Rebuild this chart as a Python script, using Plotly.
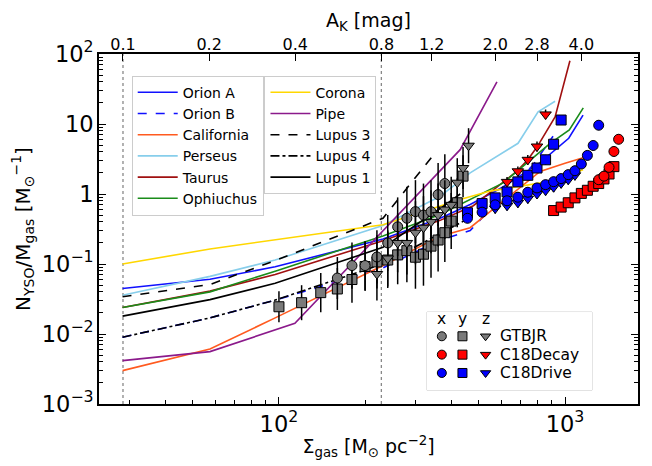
import plotly.graph_objects as go
import numpy as np

# ---------------- data ----------------
SIG_PER_AK = 285.0
ak_ticks = [0.1, 0.2, 0.4, 0.8, 1.2, 2.0, 2.8, 4.0]
ak_ticktext = ["0.1", "0.2", "0.4", "0.8", "1.2", "2.0", "2.8", "4.0"]
ak_guides = [0.1, 0.8]

# cloud curves: surface density and N_YSO/M_gas
orionA_s = [28.4, 57.4, 97, 231, 366, 466, 607, 818, 1030, 1156]
orionA_v = [0.0447, 0.0605, 0.0912, 0.227, 0.45, 0.71, 1.26, 2.8, 6.25, 13.4]
orionB_s = [28.4, 57.4, 97, 231, 366, 466, 607, 773, 908]
orionB_v = [0.0090, 0.017, 0.0305, 0.088, 0.22, 0.30, 0.95, 2.6, 6.7]
california_s = [28.4, 57.4, 97, 231, 366, 466, 607, 818, 1000, 1156]
california_v = [0.0030, 0.0061, 0.0170, 0.095, 0.25, 0.33, 0.79, 2.1, 2.75, 3.3]
perseus_s = [28.4, 57.4, 97, 231, 366, 466, 685, 805, 923]
perseus_v = [0.0357, 0.0665, 0.114, 0.355, 0.93, 2.0, 5.3, 14.9, 21.1]
taurus_s = [28.4, 57.4, 97, 231, 366, 478, 678, 741, 800, 923, 1040]
taurus_v = [0.0239, 0.041, 0.071, 0.215, 0.42, 0.68, 2.11, 3.08, 4.76, 12.6, 80]
ophiuchus_s = [28.4, 57.4, 97, 231, 366, 608, 887, 1035, 1158]
ophiuchus_v = [0.0239, 0.040, 0.079, 0.251, 0.51, 1.44, 5.3, 8.2, 17.0]
corona_s = [28.4, 57.4, 231, 430, 547, 773, 908, 1156]
corona_v = [0.100, 0.164, 0.363, 0.836, 1.10, 1.39, 1.54, 2.22]
pipe_s = [28.4, 57.4, 113.7, 430, 578]
pipe_v = [0.00416, 0.0056, 0.0142, 4.3, 40]
lupus3_s = [28.4, 57.4, 97, 231, 343]
lupus3_v = [0.034, 0.051, 0.112, 0.45, 3.42]
lupus4_s = [28.4, 57.4, 97, 231, 466]
lupus4_v = [0.0090, 0.017, 0.0305, 0.10, 0.46]
lupus1_s = [28.4, 57.4, 97, 231, 366, 430]
lupus1_v = [0.018, 0.031, 0.053, 0.173, 0.62, 1.0]

# GTBJR simulation points
gt_s = [100, 120, 140, 160, 180, 200, 220, 240, 260, 280, 300, 320, 340, 360, 380, 400, 420, 440, 460]
gt_x = [None, None, None, 0.063, 0.095, 0.095, 0.126, 0.20, 0.34, 0.45, 0.56, 0.50, 0.56, 0.98, 1.41, None, None, None, None]
gt_y = [0.0245, 0.028, 0.039, 0.044, 0.060, 0.092, 0.107, 0.114, 0.135, 0.155, 0.125, 0.138, 0.18, 0.22, 0.28, 0.41, 0.75, 1.8, None]
gt_z = [None, None, None, None, None, None, 0.072, 0.12, 0.20, 0.20, 0.28, 0.33, 0.40, 0.50, 0.60, 0.70, 1.45, 2.35, 4.9]
gt_err_dex = [0.22, 0.25, 0.28, 0.3, 0.33, 0.35, 0.38, 0.4, 0.42, 0.45, 0.45, 0.45, 0.45, 0.45, 0.42, 0.4, 0.35, 0.3, 0.25]

# C18 simulations, in A_K bins
decay_x_ak = [4.6, 4.8, 5.0, 5.2, 5.4]
decay_x = [1.6, 1.8, 2.4, 4.05, 6.05]
decay_y_ak = [3.2, 3.4, 3.6, 3.8, 4.0, 4.2, 4.4, 4.6, 4.8, 5.0, 5.2]
decay_y = [0.58, 0.65, 0.75, 0.88, 1.02, 1.13, 1.29, 1.41, 1.64, 1.93, 2.46]
decay_z_ak = [2.2, 2.4, 2.6, 2.8, 3.0]
decay_z = [1.49, 2.11, 3.08, 4.77, 13.7]

drive_x_ak = [1.6, 1.8, 2.0, 2.2, 2.4, 2.6, 2.8, 3.0, 3.2, 3.4, 3.6, 3.8, 4.0, 4.2, 4.4, 4.6]
drive_x = [0.45, 0.55, 0.70, 0.80, 0.90, 1.06, 1.22, 1.36, 1.50, 1.66, 1.89, 2.15, 2.68, 3.56, 4.93, 9.6]
drive_y_ak = [1.6, 1.8, 2.0, 2.2, 2.4, 2.6, 2.8, 3.0, 3.2, 3.4]
drive_y = [0.54, 0.73, 0.88, 1.07, 1.49, 1.85, 2.35, 3.08, 5.14, 11.4]
drive_z_ak = [2.0, 2.2, 2.4, 2.6, 2.8, 3.0, 3.2, 3.4, 3.6, 3.8]
drive_z = [0.62, 0.68, 0.75, 0.86, 1.0, 1.12, 1.25, 1.42, 1.60, 1.85]
c18_err_dex = 0.07

# ---------------- figure ----------------
fig = go.Figure()

FONT = "DejaVu Sans"

def add_line(s, v, name, color, dash, legend):
    fig.add_trace(go.Scatter(x=s, y=v, mode="lines", name=name,
                             line=dict(color=color, width=1.6, dash=dash),
                             legend=legend))

# dotted guides
for a in ak_guides:
    fig.add_trace(go.Scatter(x=[a * SIG_PER_AK, a * SIG_PER_AK], y=[1e-3, 1e2], mode="lines",
                             line=dict(color="#888888", width=1.3, dash="dot"),
                             showlegend=False, hoverinfo="skip"))

add_line(orionA_s, orionA_v, "Orion A", "#1010ff", "solid", "legend")
add_line(orionB_s, orionB_v, "Orion B", "#1010ff", "dash", "legend")
add_line(california_s, california_v, "California", "#ff5a1f", "solid", "legend")
add_line(perseus_s, perseus_v, "Perseus", "#87ceeb", "solid", "legend")
add_line(taurus_s, taurus_v, "Taurus", "#a01010", "solid", "legend")
add_line(ophiuchus_s, ophiuchus_v, "Ophiuchus", "#1a8c1a", "solid", "legend")
add_line(corona_s, corona_v, "Corona", "#ffd700", "solid", "legend2")
add_line(pipe_s, pipe_v, "Pipe", "#8b1a8b", "solid", "legend2")
add_line(lupus3_s, lupus3_v, "Lupus 3", "black", "dash", "legend2")
add_line(lupus4_s, lupus4_v, "Lupus 4", "black", "dashdot", "legend2")
add_line(lupus1_s, lupus1_v, "Lupus 1", "black", "solid", "legend2")


def err_arrays(vals, dex):
    if np.isscalar(dex):
        dex = [dex] * len(vals)
    plus = [None if v is None else v * (10 ** d - 1) for v, d in zip(vals, dex)]
    minus = [None if v is None else v * (1 - 10 ** (-d)) for v, d in zip(vals, dex)]
    return plus, minus


def add_points(s, v, symbol, color, dex, size=10):
    plus, minus = err_arrays(v, dex)
    fig.add_trace(go.Scatter(
        x=s, y=v, mode="markers", showlegend=False,
        marker=dict(symbol=symbol, size=size, color=color, line=dict(color="black", width=1)),
        error_y=dict(type="data", array=plus, arrayminus=minus, color="black", thickness=1.5, width=0)))

GREY = "#7a7a7a"
add_points(gt_s, gt_y, "square", GREY, gt_err_dex)
add_points(gt_s, gt_x, "circle", GREY, gt_err_dex)
add_points(gt_s, gt_z, "triangle-down", GREY, gt_err_dex)

ak2s = lambda arr: [a * SIG_PER_AK for a in arr]
add_points(ak2s(decay_y_ak), decay_y, "square", "#ff0000", c18_err_dex)
add_points(ak2s(decay_x_ak), decay_x, "circle", "#ff0000", c18_err_dex)
add_points(ak2s(decay_z_ak), decay_z, "triangle-down", "#ff0000", c18_err_dex)
add_points(ak2s(drive_y_ak), drive_y, "square", "#0000ff", c18_err_dex)
add_points(ak2s(drive_z_ak), drive_z, "triangle-down", "#0000ff", c18_err_dex)
add_points(ak2s(drive_x_ak), drive_x, "circle", "#0000ff", c18_err_dex)

# top axis helper trace (invisible)
fig.add_trace(go.Scatter(x=[SIG_PER_AK * a for a in ak_ticks], y=[1] * len(ak_ticks),
                         xaxis="x2", mode="markers", marker=dict(opacity=0), showlegend=False,
                         hoverinfo="skip"))

# custom simulation key (inset axes)
key_names = ["GTBJR", "C18Decay", "C18Drive"]
key_colors = [GREY, "#ff0000", "#0000ff"]
key_symbols = ["circle", "square", "triangle-down"]
key_cols = [0.09, 0.215, 0.355]
key_rows = [0.69, 0.455, 0.22]
for name, col, row in zip(key_names, key_colors, key_rows):
    fig.add_trace(go.Scatter(x=key_cols, y=[row] * 3, xaxis="x3", yaxis="y3", mode="markers",
                             marker=dict(symbol=key_symbols, size=9, color=col,
                                         line=dict(color="black", width=1)),
                             showlegend=False, hoverinfo="skip"))
    fig.add_annotation(x=0.43, y=row, xref="x3", yref="y3", text=name, showarrow=False,
                       xanchor="left", yanchor="middle", font=dict(family=FONT, size=15.5, color="black"))
for lab, col in zip(["x", "y", "z"], key_cols):
    fig.add_annotation(x=col, y=0.915, xref="x3", yref="y3", text=lab, showarrow=False,
                       xanchor="center", yanchor="middle", font=dict(family=FONT, size=15.5, color="black"))

x_range = [1.371, 3.255]
fig.update_layout(
    width=652, height=466,
    margin=dict(l=99, r=14, t=54, b=58),
    paper_bgcolor="white", plot_bgcolor="white",
    font=dict(family=FONT, color="black"),
    xaxis=dict(type="log", range=x_range, showgrid=False, zeroline=False,
               showline=True, linecolor="black", linewidth=1.5, mirror=True,
               ticks="inside", ticklen=7, tickwidth=1.2, tickcolor="black",
               dtick=1, exponentformat="power", tickfont=dict(size=18),
               minor=dict(ticks="inside", ticklen=4, tickcolor="black", tickwidth=1, showgrid=False),
               title=dict(text="Σ<sub>gas</sub> [M<sub>⊙</sub> pc<sup>−2</sup>]", font=dict(size=19), standoff=4)),
    xaxis2=dict(type="log", range=x_range, overlaying="x", side="top", showgrid=False,
                zeroline=False, showline=False, ticks="inside", ticklen=7, tickwidth=1.2,
                tickcolor="black", tickmode="array",
                tickvals=[SIG_PER_AK * a for a in ak_ticks], ticktext=ak_ticktext,
                tickfont=dict(size=16),
                title=dict(text="A<sub>K</sub> [mag]", font=dict(size=19), standoff=2)),
    yaxis=dict(type="log", range=[-3, 2], showgrid=False, zeroline=False,
               showline=True, linecolor="black", linewidth=1.5, mirror="ticks",
               ticks="inside", ticklen=7, tickwidth=1.2, tickcolor="black",
               dtick=1, exponentformat="power", tickfont=dict(size=18),
               minor=dict(ticks="inside", ticklen=4, tickcolor="black", tickwidth=1, showgrid=False),
               title=dict(text="N<sub>YSO</sub>/M<sub>gas</sub> [M<sub>⊙</sub><sup>−1</sup>]",
                          font=dict(size=20), standoff=6)),
    xaxis3=dict(domain=[0.6085, 0.9147], range=[0, 1], anchor="y3", visible=False, fixedrange=True),
    yaxis3=dict(domain=[0.0395, 0.2627], range=[0, 1], anchor="x3", visible=False, fixedrange=True),
    legend=dict(x=0.0607, y=0.938, xanchor="left", yanchor="top",
                bgcolor="rgba(255,255,255,0.85)", bordercolor="#cccccc", borderwidth=1,
                font=dict(size=14, family=FONT), tracegroupgap=0, itemwidth=40),
    legend2=dict(x=0.307, y=0.938, xanchor="left", yanchor="top",
                 bgcolor="rgba(255,255,255,0.85)", bordercolor="#cccccc", borderwidth=1,
                 font=dict(size=14, family=FONT), tracegroupgap=0, itemwidth=40),
    shapes=[dict(type="rect", xref="paper", yref="paper", x0=0.6085, x1=0.9147, y0=0.0395, y1=0.2627,
                 line=dict(color="#cccccc", width=1), fillcolor="rgba(255,255,255,0.85)", layer="below")],
    showlegend=True,
)

fig.write_html("out.html")
